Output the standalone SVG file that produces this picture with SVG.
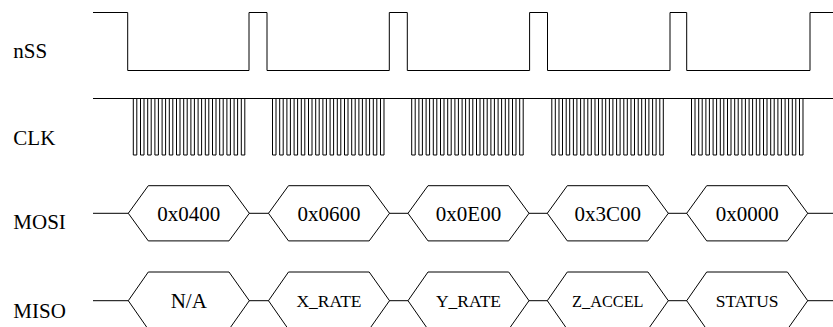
<svg xmlns="http://www.w3.org/2000/svg" xmlns:xlink="http://www.w3.org/1999/xlink" width="833" height="327" viewBox="0 0 833 327">
<style>
.w{fill:none;stroke:#000;stroke-width:1}
.hx{fill:#fff;stroke:#000;stroke-width:1}
text{font-family:'Times New Roman','Liberation Serif',Times,'DejaVu Serif',serif;fill:#000}
.lb{font-size:21px}
.t{font-size:21px;text-anchor:middle}
.s{font-size:17.5px;text-anchor:middle}
</style>
<defs>
<path id="burst" class="w" d="M0,0 v56.5 h3.5 v-56.5 m3.7,0 v56.5 h3.5 v-56.5 m3.7,0 v56.5 h3.5 v-56.5 m3.7,0 v56.5 h3.5 v-56.5 m3.7,0 v56.5 h3.5 v-56.5 m3.7,0 v56.5 h3.5 v-56.5 m3.7,0 v56.5 h3.5 v-56.5 m3.7,0 v56.5 h3.5 v-56.5 m3.7,0 v56.5 h3.5 v-56.5 m3.7,0 v56.5 h3.5 v-56.5 m3.7,0 v56.5 h3.5 v-56.5 m3.7,0 v56.5 h3.5 v-56.5 m3.7,0 v56.5 h3.5 v-56.5 m3.7,0 v56.5 h3.5 v-56.5 m3.7,0 v56.5 h3.5 v-56.5 m3.7,0 v56.5 h3.5 v-56.5"/>
<polygon id="hexA" class="hx" points="0,0 20,-27.6 100.7,-27.6 121,0 100.7,27.6 20,27.6"/>
<polygon id="hexB" class="hx" points="0,0 20,-28.7 100.7,-28.7 121,0 100.7,28.7 20,28.7"/>
</defs>
<rect width="833" height="327" fill="#fff"/>

<g id="nSS">
<text class="lb" x="13.3" y="57.5">nSS</text>
<path class="w" d="M93,12.5 H127.7 V70.5 H249 V12.5 H267 V70.5 H389.3 V12.5 H407.3 V70.5 H529.6 V12.5 H547.5 V70.5 H670 V12.5 H686.7 V70.5 H810 V12.5 H833"/>
</g>

<g id="CLK">
<text class="lb" x="13.3" y="145">CLK</text>
<path class="w" d="M93,98.5 H833"/>
<use xlink:href="#burst" x="133.3" y="98.5"/>
<use xlink:href="#burst" x="272.5" y="98.5"/>
<use xlink:href="#burst" x="411.7" y="98.5"/>
<use xlink:href="#burst" x="551.8" y="98.5"/>
<use xlink:href="#burst" x="691.5" y="98.5"/>
</g>

<g id="MOSI">
<text class="lb" x="13.3" y="229">MOSI</text>
<path class="w" d="M93,213.3 H833"/>
<use xlink:href="#hexA" x="128.3" y="213.3"/>
<use xlink:href="#hexA" x="268.5" y="213.3"/>
<use xlink:href="#hexA" x="408" y="213.3"/>
<use xlink:href="#hexA" x="547.3" y="213.3"/>
<use xlink:href="#hexA" x="686.7" y="213.3"/>
<text class="t" x="188.8" y="221">0x0400</text>
<text class="t" x="329" y="221">0x0600</text>
<text class="t" x="468.5" y="221">0x0E00</text>
<text class="t" x="607.8" y="221">0x3C00</text>
<text class="t" x="747.2" y="221">0x0000</text>
</g>

<g id="MISO">
<text class="lb" x="13.3" y="318">MISO</text>
<path class="w" d="M93,300.7 H833"/>
<use xlink:href="#hexB" x="128.3" y="300.7"/>
<use xlink:href="#hexB" x="268.5" y="300.7"/>
<use xlink:href="#hexB" x="408" y="300.7"/>
<use xlink:href="#hexB" x="547.3" y="300.7"/>
<use xlink:href="#hexB" x="686.7" y="300.7"/>
<text class="t" x="188.8" y="308">N/A</text>
<text class="s" x="329" y="307">X_RATE</text>
<text class="s" x="468.5" y="307">Y_RATE</text>
<text class="s" x="607.8" y="307" style="font-size:16.3px">Z_ACCEL</text>
<text class="s" x="747.2" y="307">STATUS</text>
</g>
</svg>
